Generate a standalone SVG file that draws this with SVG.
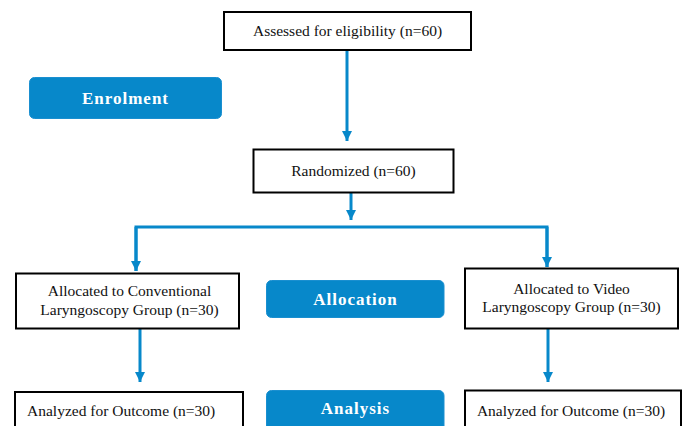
<svg xmlns="http://www.w3.org/2000/svg" width="683" height="426" viewBox="0 0 683 426">
<defs>
<style>
.box{fill:#fff;stroke:#000;stroke-width:2}
.pill{fill:#0788CA;stroke:#1a8fd0;stroke-width:1}
.t{font-family:"Liberation Serif","Times New Roman",serif;font-size:15.5px;fill:#111}
.p{font-family:"Liberation Serif","Times New Roman",serif;font-size:17px;font-weight:bold;fill:#fff;letter-spacing:1px}
.c{stroke:#0788CA;stroke-width:3;fill:none}
</style>
<marker id="ah" markerUnits="userSpaceOnUse" markerWidth="11" markerHeight="10" refX="10" refY="5" orient="auto" viewBox="0 0 10 10">
<path d="M0,0 L10,5 L0,10 z" fill="#0788CA"/>
</marker>
</defs>
<g id="connectors">
<line class="c" x1="347" y1="50" x2="347" y2="141" marker-end="url(#ah)"/>
<line class="c" x1="351" y1="193" x2="351" y2="220" marker-end="url(#ah)"/>
<polyline class="c" points="136,271 136,227 547,227 547,267" stroke-linejoin="miter"/>
<line class="c" x1="136" y1="227" x2="136" y2="271" marker-end="url(#ah)"/>
<line class="c" x1="547" y1="227" x2="547" y2="267" marker-end="url(#ah)"/>
<line class="c" x1="140" y1="329" x2="140" y2="382" marker-end="url(#ah)"/>
<line class="c" x1="548" y1="329" x2="548" y2="382" marker-end="url(#ah)"/>
</g>
<g id="assessed">
<rect class="box" x="224" y="12" width="247" height="38"/>
<text class="t" x="347.5" y="36" text-anchor="middle">Assessed for eligibility (n=60)</text>
</g>
<g id="enrolment">
<rect class="pill" x="29.5" y="77.5" width="192" height="41" rx="5"/>
<text class="p" x="125.5" y="104" text-anchor="middle">Enrolment</text>
</g>
<g id="randomized">
<rect class="box" x="253.5" y="149.5" width="200" height="43"/>
<text class="t" x="353.5" y="176" text-anchor="middle">Randomized (n=60)</text>
</g>
<g id="alloc-conv">
<rect class="box" x="16" y="273.5" width="223" height="55"/>
<text class="t" x="129.5" y="296" text-anchor="middle">Allocated to Conventional</text>
<text class="t" x="129.5" y="314.5" text-anchor="middle">Laryngoscopy Group (n=30)</text>
</g>
<g id="allocation">
<rect class="pill" x="266.5" y="280.5" width="177.5" height="37" rx="5"/>
<text class="p" x="355.5" y="305" text-anchor="middle">Allocation</text>
</g>
<g id="alloc-video">
<rect class="box" x="465" y="268.5" width="213" height="60"/>
<text class="t" x="571.5" y="293.5" text-anchor="middle">Allocated to Video</text>
<text class="t" x="571.5" y="312" text-anchor="middle">Laryngoscopy Group (n=30)</text>
</g>
<g id="analyzed-conv">
<rect class="box" x="15" y="392" width="228" height="45"/>
<text class="t" x="27" y="416">Analyzed for Outcome (n=30)</text>
</g>
<g id="analysis">
<rect class="pill" x="266.5" y="390.5" width="177.5" height="45" rx="5"/>
<text class="p" x="355.5" y="413.5" text-anchor="middle">Analysis</text>
</g>
<g id="analyzed-video">
<rect class="box" x="465" y="390.5" width="216" height="45"/>
<text class="t" x="571" y="416" text-anchor="middle">Analyzed for Outcome (n=30)</text>
</g>
</svg>
